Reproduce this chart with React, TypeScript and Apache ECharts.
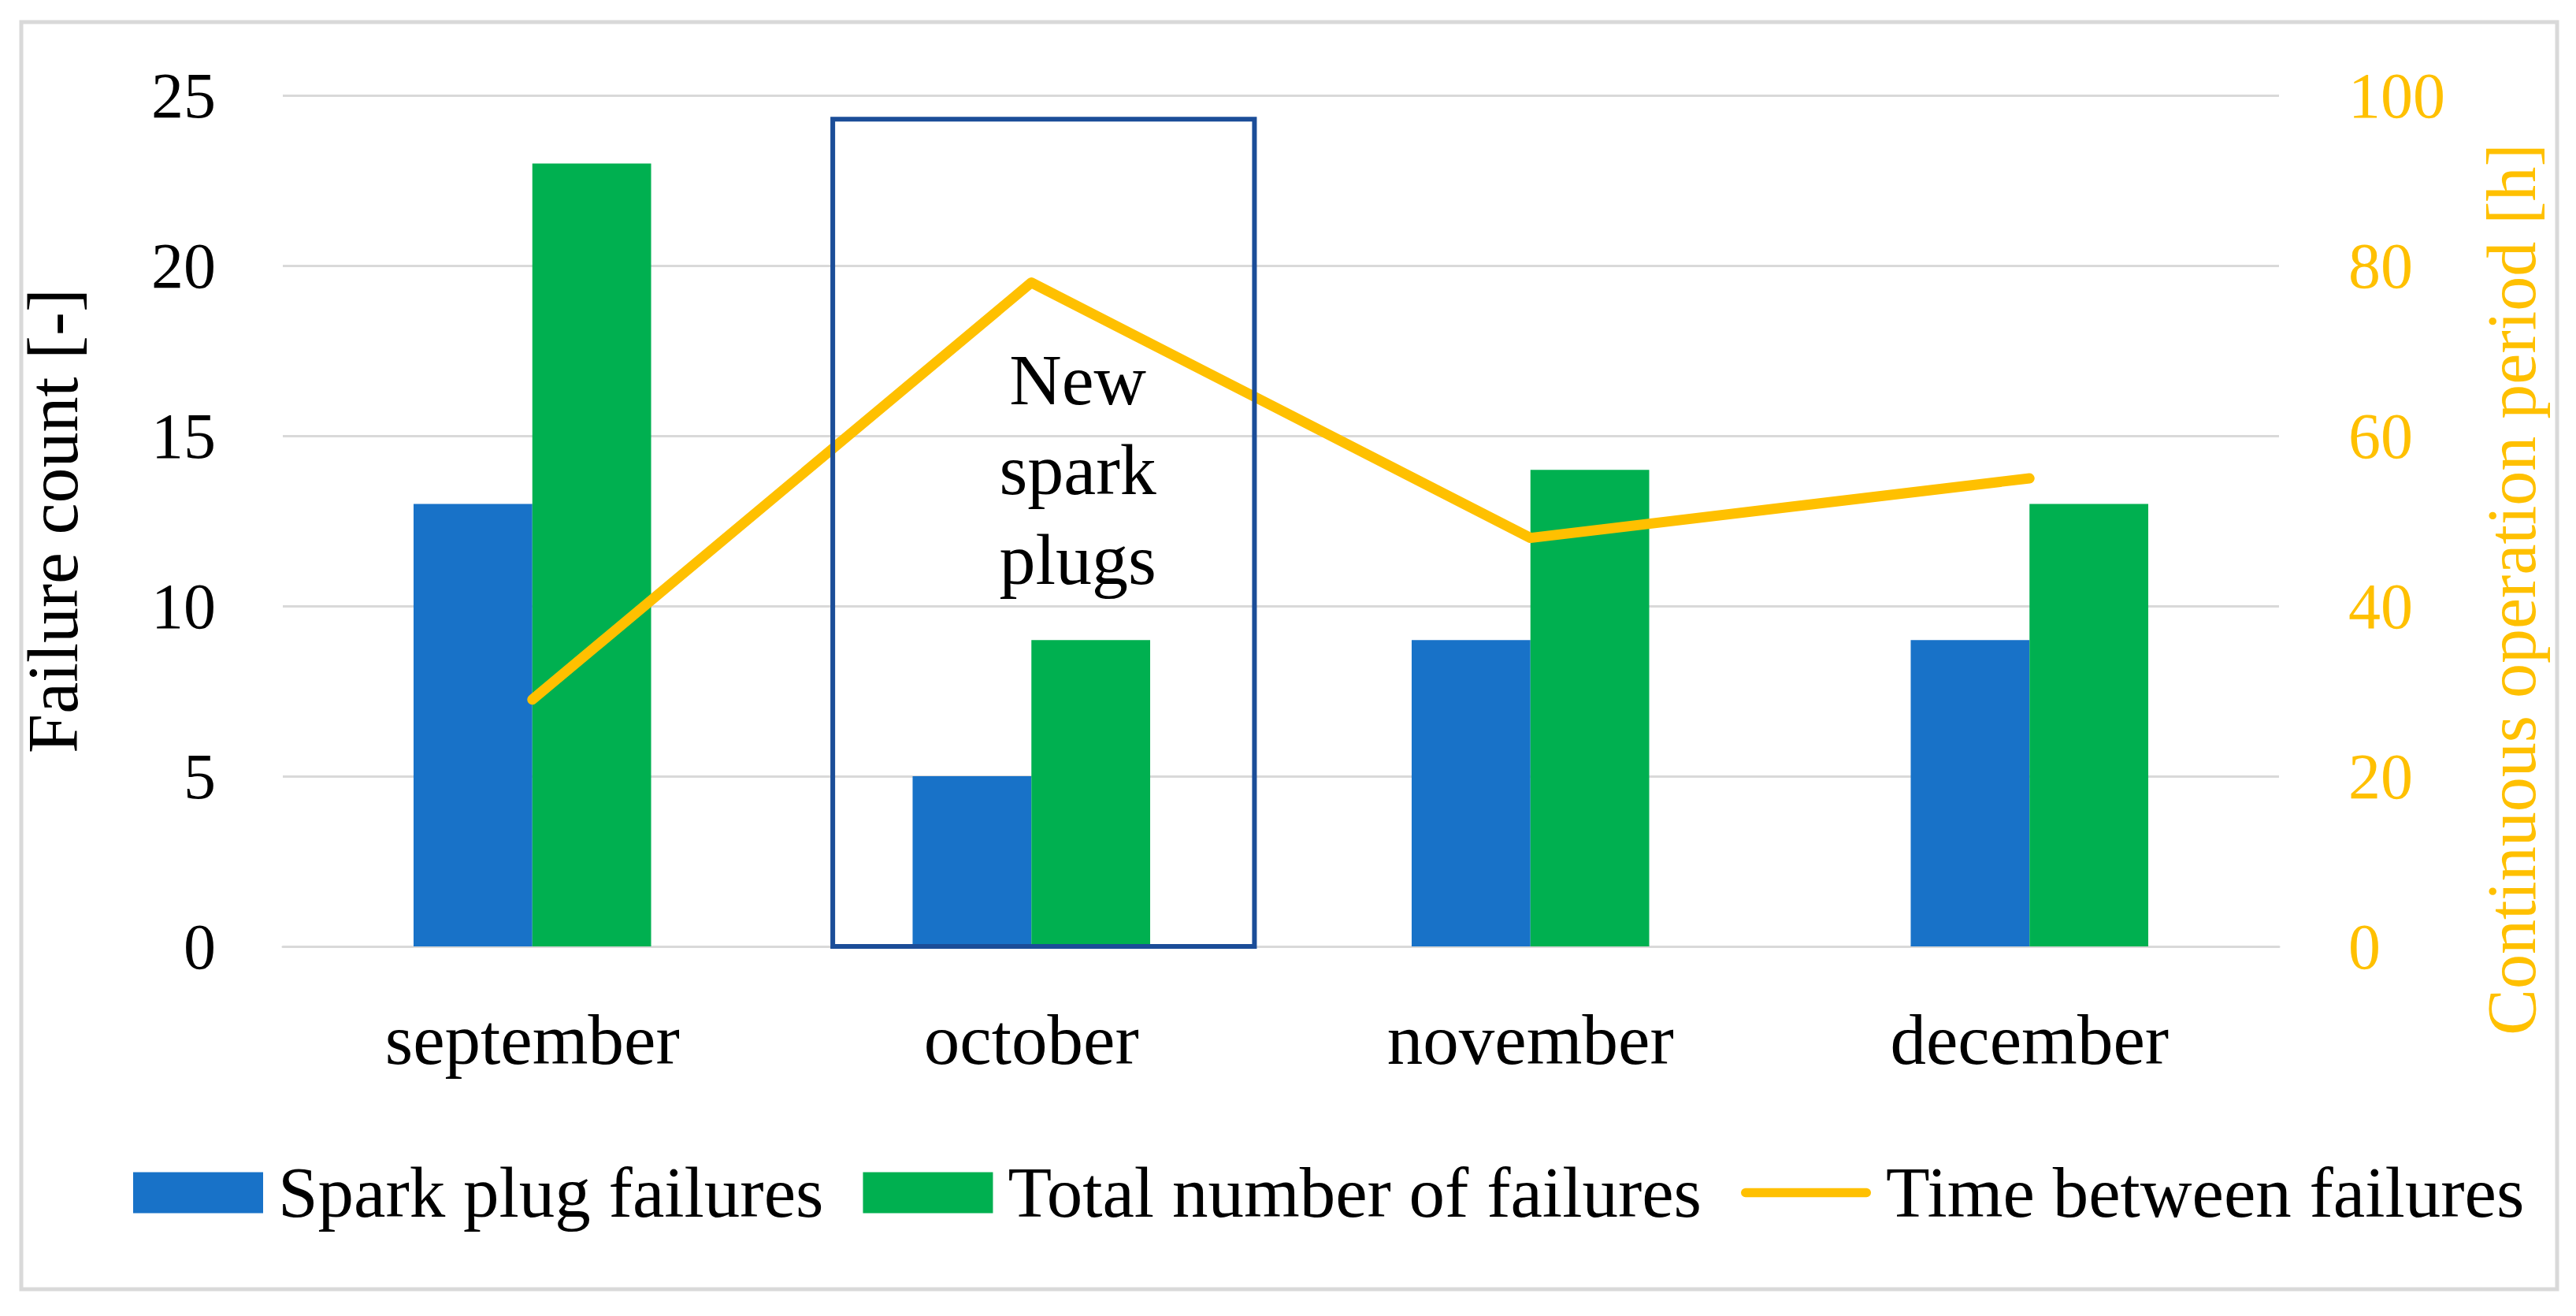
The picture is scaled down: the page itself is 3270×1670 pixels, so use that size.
import React, { useEffect, useRef } from "react";
import * as echarts from "echarts";

const categories = ["september", "october", "november", "december"];
const sparkPlugFailures = [13, 5, 9, 9];
const totalFailures = [23, 9, 14, 13];
const timeBetweenFailures = [29, 78, 48, 55];

const leftTicks = { min: 0, max: 25, interval: 5 };
const rightTicks = { min: 0, max: 100, interval: 20 };

// annotation: category index, box top value (left axis), text centre value (left axis)
const annotationBox = [[1, 24.3, 14]];
const annotationText = "New\nspark\nplugs";

const FONT = "'Liberation Serif', 'Times New Roman', serif";
const LINE_ICON = "path://M6,0 H167 A6,6 0 0 1 167,12 H6 A6,6 0 0 1 6,0 Z";

export default function App() {
  const ref = useRef<HTMLDivElement>(null);

  useEffect(() => {
    if (!ref.current) return;
    const chart = echarts.init(ref.current, undefined, { renderer: "svg" });
    const option: any = {
      animation: false,
      backgroundColor: "#ffffff",
      textStyle: { fontFamily: FONT },
      grid: { left: 359, right: 377, top: 121, bottom: 469 },
      legend: {
        left: 169,
        top: 1468,
        padding: 0,
        itemWidth: 165,
        itemHeight: 52,
        itemGap: 50,
        symbolKeepAspect: true,
        textStyle: { fontFamily: FONT, fontSize: 91, color: "#000", padding: [0, 0, 0, 14] },
        data: [
          { name: "Spark plug failures", icon: "rect" },
          { name: "Total number of failures", icon: "rect" },
          { name: "Time between failures", icon: LINE_ICON, itemStyle: { color: "#FFC000" } },
        ],
      },
      graphic: [
        {
          type: "rect",
          shape: { x: 27, y: 28, width: 3219, height: 1608 },
          style: { fill: "none", stroke: "#D9D9D9", lineWidth: 5 },
          silent: true,
          z: -10,
        },
        {
          type: "text",
          x: 3188,
          y: 748,
          rotation: Math.PI / 2,
          style: {
            text: "Continuous operation period [h]",
            fontFamily: FONT,
            fontSize: 88,
            fill: "#FFC000",
            align: "center",
            verticalAlign: "middle",
          },
        },
      ],
      xAxis: {
        type: "category",
        data: categories,
        axisTick: { show: false },
        axisLine: { show: true, lineStyle: { color: "#D9D9D9", width: 3 } },
        axisLabel: { fontFamily: FONT, fontSize: 91, color: "#000", margin: 73 },
      },
      yAxis: [
        {
          type: "value",
          min: leftTicks.min,
          max: leftTicks.max,
          interval: leftTicks.interval,
          name: "Failure count [-]",
          nameLocation: "middle",
          nameGap: 247,
          nameRotate: 90,
          nameTextStyle: { fontFamily: FONT, fontSize: 90, color: "#000" },
          axisLine: { show: false },
          axisTick: { show: false },
          axisLabel: { fontFamily: FONT, fontSize: 82, color: "#000", margin: 85 },
          splitLine: { show: true, lineStyle: { color: "#D9D9D9", width: 3 } },
        },
        {
          type: "value",
          position: "right",
          min: rightTicks.min,
          max: rightTicks.max,
          interval: rightTicks.interval,
          axisLine: { show: false },
          axisTick: { show: false },
          axisLabel: { fontFamily: FONT, fontSize: 82, color: "#FFC000", margin: 88 },
          splitLine: { show: false },
        },
      ],
      series: [
        {
          name: "Spark plug failures",
          type: "bar",
          data: sparkPlugFailures,
          barWidth: "23.8%",
          barGap: "0%",
          itemStyle: { color: "#1872C8" },
        },
        {
          name: "Total number of failures",
          type: "bar",
          data: totalFailures,
          barWidth: "23.8%",
          barGap: "0%",
          itemStyle: { color: "#00B050" },
        },
        {
          name: "Time between failures",
          type: "line",
          yAxisIndex: 1,
          data: timeBetweenFailures,
          symbol: "none",
          lineStyle: { color: "#FFC000", width: 13, cap: "round", join: "round" },
          itemStyle: { color: "#FFC000" },
        },
        {
          name: "annotation",
          type: "custom",
          xAxisIndex: 0,
          yAxisIndex: 0,
          clip: false,
          z: 5,
          data: annotationBox,
          renderItem: (params: any, api: any) => {
            const cat = api.value(0);
            const top = api.value(1);
            const textVal = api.value(2);
            const base = api.coord([cat, 0]);
            const topPt = api.coord([cat, top]);
            const textPt = api.coord([cat, textVal]);
            const w = api.size([1, 0])[0];
            const x0 = base[0] - 0.398 * w;
            const x1 = base[0] + 0.447 * w;
            return {
              type: "group",
              children: [
                {
                  type: "rect",
                  shape: { x: x0, y: topPt[1], width: x1 - x0, height: base[1] - topPt[1] },
                  style: { fill: "none", stroke: "#1B4D98", lineWidth: 6 },
                },
                {
                  type: "text",
                  x: base[0] + 0.093 * w,
                  y: textPt[1],
                  style: {
                    text: annotationText,
                    fontFamily: FONT,
                    fontSize: 92,
                    lineHeight: 114,
                    fill: "#000",
                    align: "center",
                    verticalAlign: "middle",
                  },
                },
              ],
            };
          },
        },
      ],
    };
    chart.setOption(option);
    return () => chart.dispose();
  }, []);

  return (
    <div
      ref={ref}
      style={{ position: "fixed", left: 0, top: 0, width: "3270px", height: "1670px", background: "#fff" }}
    />
  );
}
